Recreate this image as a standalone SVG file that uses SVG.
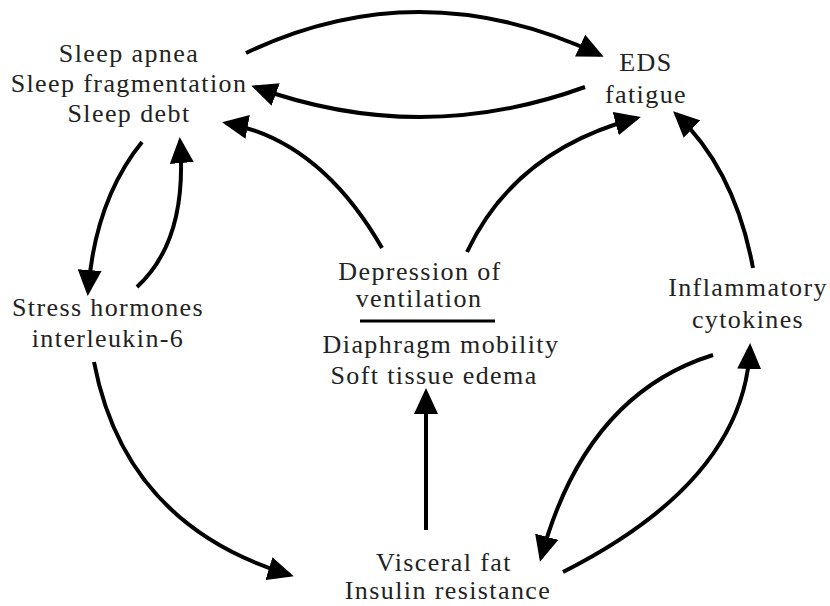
<svg xmlns="http://www.w3.org/2000/svg" width="830" height="606" viewBox="0 0 830 606">
<defs>
<marker id="ah" markerUnits="userSpaceOnUse" markerWidth="28" markerHeight="24" refX="22" refY="12" orient="auto">
<path d="M0,0 L26,12 L0,24 z" fill="#000"/>
</marker>
<style>
.t text{font-size:26px;fill:#222;text-anchor:middle;letter-spacing:1.4px}
.c{fill:none;stroke:#000;stroke-width:4;marker-end:url(#ah)}
</style>
</defs>
<rect width="830" height="606" fill="#fff"/>
<g class="t" font-family="Liberation Serif, Times New Roman, serif">
<g id="sleep">
<text x="129" y="62">Sleep apnea</text>
<text x="129" y="92">Sleep fragmentation</text>
<text x="129" y="122">Sleep debt</text>
</g>
<g id="eds">
<text x="646" y="71">EDS</text>
<text x="646" y="103">fatigue</text>
</g>
<g id="stress">
<text x="108" y="316">Stress hormones</text>
<text x="108" y="347">interleukin-6</text>
</g>
<g id="depression">
<text x="420" y="280">Depression of</text>
<text x="419" y="307">ventilation</text>
<line x1="360" y1="321" x2="495" y2="321" stroke="#000" stroke-width="3"/>
<text x="441" y="353">Diaphragm mobility</text>
<text x="434" y="384">Soft tissue edema</text>
</g>
<g id="inflammatory">
<text x="748" y="296">Inflammatory</text>
<text x="748" y="328">cytokines</text>
</g>
<g id="visceral">
<text x="444" y="571">Visceral fat</text>
<text x="448" y="599">Insulin resistance</text>
</g>
</g>
<g id="connectors">
<path class="c" d="M246,53 Q420,-30 600,55"/>
<path class="c" d="M585,87 Q420,147 255,87"/>
<path class="c" d="M382,248 Q320,140 226,123"/>
<path class="c" d="M467,252 Q515,150 637,118"/>
<path class="c" d="M753,268 Q735,170 676,114"/>
<path class="c" d="M142,142 Q95,200 88,292"/>
<path class="c" d="M137,287 Q188,240 180,141"/>
<path class="c" d="M94,362 Q125,525 290,575"/>
<path class="c" d="M426,530 L426,392"/>
<path class="c" d="M713,355 Q585,395 541,558"/>
<path class="c" d="M563,572 Q745,480 750,347"/>
</g>
</svg>
